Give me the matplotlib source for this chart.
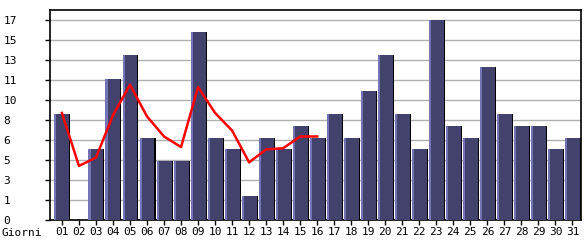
import numpy as np
import matplotlib
matplotlib.use("Agg")
import matplotlib.pyplot as plt

# dati: visite per giorno del mese
giorni = ["%02d" % d for d in range(1, 32)]
visite = [9, 0, 6, 12, 14, 7, 5, 5, 16, 7, 6, 2, 7, 6, 8, 7,
          9, 7, 11, 14, 9, 6, 17, 8, 7, 13, 9, 8, 8, 6, 7]
# linea rossa (solo primi 16 giorni)
media = [9.1, 4.6, 5.3, 8.9, 11.5, 8.8, 7.1, 6.2, 11.3, 9.1, 7.6, 4.9, 6.0, 6.1, 7.1, 7.1]
y_ticks = [0, 1.7, 3.4, 5.1, 6.8, 8.5, 10.2, 11.9, 13.6, 15.3, 17.0]
y_labels = ["0", "1", "3", "5", "6", "8", "10", "11", "13", "15", "17"]

plt.rcParams['font.family'] = ['DejaVu Sans Mono']

fig = plt.figure(figsize=(5.85, 2.4), dpi=100)
ax = fig.add_axes([50 / 585, 20 / 240, 531 / 585, 210 / 240])

x = np.arange(1, 32)
w = 0.88
# ombra nera a destra, corpo, bordo chiaro a sinistra
ax.bar(x + 0.06, visite, width=w, color="black", zorder=2)
ax.bar(x, visite, width=w, color="#42426c", zorder=3)
ax.bar(x - w / 2 + 0.06, visite, width=0.12, color="#7474b4", zorder=4)

ax.plot(x[:len(media)], media, color="#ff0000", lw=1.8, zorder=5)

ax.set_xlim(0.3, 31.5)
ax.set_ylim(0, 17.85)
ax.set_yticks(y_ticks)
ax.set_yticklabels(y_labels, fontsize=8, ha="left")
ax.tick_params(axis="y", length=3.5, width=1, pad=30)
ax.set_xticks(x)
ax.set_xticklabels(giorni, fontsize=8)
ax.tick_params(axis="x", length=3.5, width=1, pad=1.5)
ax.yaxis.grid(True, color="#b0b0b0", lw=1, zorder=0)
ax.set_axisbelow(True)
for s in ax.spines.values():
    s.set_linewidth(1.2)

fig.text(2 / 585, 1 - 233 / 240, "Giorni", fontsize=8, va="center", ha="left")

fig.savefig("out.png", dpi=100)
